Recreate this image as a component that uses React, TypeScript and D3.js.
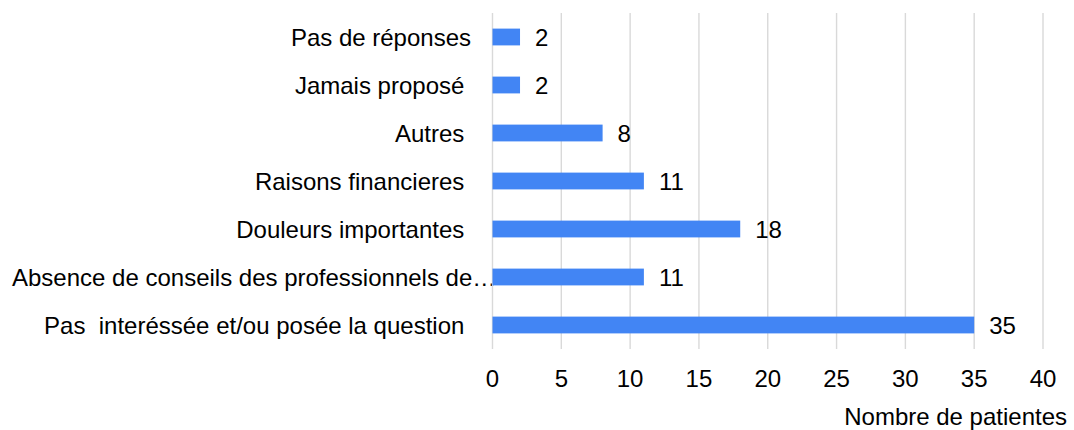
import React from "react";
import * as d3 from "d3";

const categories = [
  "Pas de réponses",
  "Jamais proposé ",
  "Autres ",
  "Raisons financieres ",
  "Douleurs importantes ",
  "Absence de conseils des professionnels de…",
  "Pas  interéssée et/ou posée la question ",
];
const values = [2, 2, 8, 11, 18, 11, 35];
const xTicks = [0, 5, 10, 15, 20, 25, 30, 35, 40];
const xTitle = "Nombre de patientes";

const W = 1074;
const H = 430;
const FONT = "'Liberation Sans', Arial, sans-serif";

export default function App() {
  const x = d3.scaleLinear().domain([0, 40]).range([492.5, 1043]);
  const y = d3
    .scaleBand<string>()
    .domain(categories)
    .range([13, 349])
    .paddingInner(0.65)
    .paddingOuter(0.325);
  const [y0, y1] = y.range();

  return (
    <svg
      width={W}
      height={H}
      style={{ position: "absolute", left: 0, top: 0, background: "#fff" }}
      fontFamily={FONT}
    >
      <rect x={0} y={0} width={W} height={H} fill="#fff" />
      {categories.map((c, i) =>
        c.endsWith("…") ? (
          <text
            key={"c" + i}
            x={12}
            y={(y(c) as number) + y.bandwidth() / 2}
            dy="0.36em"
            fontSize={24}
            fill="#000"
            style={{ whiteSpace: "pre" }}
          >
            {c}
          </text>
        ) : (
          <text
            key={"c" + i}
            x={471}
            y={(y(c) as number) + y.bandwidth() / 2}
            dy="0.36em"
            fontSize={24}
            textAnchor="end"
            fill="#000"
            style={{ whiteSpace: "pre" }}
          >
            {c}
          </text>
        )
      )}
      {xTicks.map((t) => (
        <line
          key={"g" + t}
          x1={x(t)}
          x2={x(t)}
          y1={y0}
          y2={y1}
          stroke="#d9d9d9"
          strokeWidth={1.4}
        />
      ))}
      {categories.map((c, i) => (
        <rect
          key={"b" + i}
          x={x(0)}
          y={y(c)}
          width={x(values[i]) - x(0)}
          height={y.bandwidth()}
          fill="#4285f4"
        />
      ))}
      {categories.map((c, i) => (
        <text
          key={"v" + i}
          x={x(values[i]) + 15}
          y={(y(c) as number) + y.bandwidth() / 2}
          dy="0.36em"
          fontSize={24}
          fill="#000"
        >
          {values[i]}
        </text>
      ))}
      {xTicks.map((t) => (
        <text
          key={"t" + t}
          x={x(t)}
          y={387}
          fontSize={24}
          textAnchor="middle"
          fill="#000"
        >
          {t}
        </text>
      ))}
      <text x={1067} y={425} fontSize={24} textAnchor="end" fill="#000">
        {xTitle}
      </text>
    </svg>
  );
}
